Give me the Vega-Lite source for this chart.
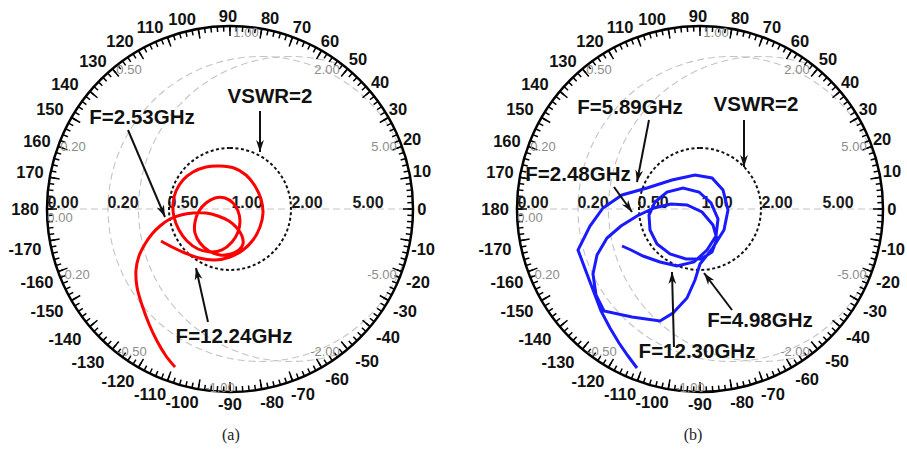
{
"$schema": "https://vega.github.io/schema/vega-lite/v6.json",
"background": "white",
"padding": 0,
"spacing": 0,
"bounds": "flush",
"config": {"view": {"stroke": null}},
"datasets": {
"grid": [{"x":0.16667,"y":0,"r":0.83333},{"x":0.33333,"y":0,"r":0.66667},{"x":0.5,"y":0,"r":0.5},{"x":0.66667,"y":0,"r":0.33333},{"x":0.83333,"y":0,"r":0.16667},{"x":0.90909,"y":0,"r":0.09091},
{"x":1,"y":5,"r":5},{"x":1,"y":-5,"r":5},{"x":1,"y":2,"r":2},{"x":1,"y":-2,"r":2},{"x":1,"y":1,"r":1},{"x":1,"y":-1,"r":1},{"x":1,"y":0.5,"r":0.5},{"x":1,"y":-0.5,"r":0.5},{"x":1,"y":0.2,"r":0.2},{"x":1,"y":-0.2,"r":0.2},{"x":1,"y":0.1,"r":0.1},{"x":1,"y":-0.1,"r":0.1}],
"ticks": [{"x":0,"y":0,"t":0,"m":1},{"x":0,"y":0,"t":2,"m":0},{"x":0,"y":0,"t":4,"m":0},{"x":0,"y":0,"t":6,"m":0},{"x":0,"y":0,"t":8,"m":0},{"x":0,"y":0,"t":10,"m":1},{"x":0,"y":0,"t":12,"m":0},{"x":0,"y":0,"t":14,"m":0},{"x":0,"y":0,"t":16,"m":0},{"x":0,"y":0,"t":18,"m":0},{"x":0,"y":0,"t":20,"m":1},{"x":0,"y":0,"t":22,"m":0},{"x":0,"y":0,"t":24,"m":0},{"x":0,"y":0,"t":26,"m":0},{"x":0,"y":0,"t":28,"m":0},{"x":0,"y":0,"t":30,"m":1},{"x":0,"y":0,"t":32,"m":0},{"x":0,"y":0,"t":34,"m":0},{"x":0,"y":0,"t":36,"m":0},{"x":0,"y":0,"t":38,"m":0},{"x":0,"y":0,"t":40,"m":1},{"x":0,"y":0,"t":42,"m":0},{"x":0,"y":0,"t":44,"m":0},{"x":0,"y":0,"t":46,"m":0},{"x":0,"y":0,"t":48,"m":0},{"x":0,"y":0,"t":50,"m":1},{"x":0,"y":0,"t":52,"m":0},{"x":0,"y":0,"t":54,"m":0},{"x":0,"y":0,"t":56,"m":0},{"x":0,"y":0,"t":58,"m":0},{"x":0,"y":0,"t":60,"m":1},{"x":0,"y":0,"t":62,"m":0},{"x":0,"y":0,"t":64,"m":0},{"x":0,"y":0,"t":66,"m":0},{"x":0,"y":0,"t":68,"m":0},{"x":0,"y":0,"t":70,"m":1},{"x":0,"y":0,"t":72,"m":0},{"x":0,"y":0,"t":74,"m":0},{"x":0,"y":0,"t":76,"m":0},{"x":0,"y":0,"t":78,"m":0},{"x":0,"y":0,"t":80,"m":1},{"x":0,"y":0,"t":82,"m":0},{"x":0,"y":0,"t":84,"m":0},{"x":0,"y":0,"t":86,"m":0},{"x":0,"y":0,"t":88,"m":0},{"x":0,"y":0,"t":90,"m":1},{"x":0,"y":0,"t":92,"m":0},{"x":0,"y":0,"t":94,"m":0},{"x":0,"y":0,"t":96,"m":0},{"x":0,"y":0,"t":98,"m":0},{"x":0,"y":0,"t":100,"m":1},{"x":0,"y":0,"t":102,"m":0},{"x":0,"y":0,"t":104,"m":0},{"x":0,"y":0,"t":106,"m":0},{"x":0,"y":0,"t":108,"m":0},{"x":0,"y":0,"t":110,"m":1},{"x":0,"y":0,"t":112,"m":0},{"x":0,"y":0,"t":114,"m":0},{"x":0,"y":0,"t":116,"m":0},{"x":0,"y":0,"t":118,"m":0},{"x":0,"y":0,"t":120,"m":1},{"x":0,"y":0,"t":122,"m":0},{"x":0,"y":0,"t":124,"m":0},{"x":0,"y":0,"t":126,"m":0},{"x":0,"y":0,"t":128,"m":0},{"x":0,"y":0,"t":130,"m":1},{"x":0,"y":0,"t":132,"m":0},{"x":0,"y":0,"t":134,"m":0},{"x":0,"y":0,"t":136,"m":0},{"x":0,"y":0,"t":138,"m":0},{"x":0,"y":0,"t":140,"m":1},{"x":0,"y":0,"t":142,"m":0},{"x":0,"y":0,"t":144,"m":0},{"x":0,"y":0,"t":146,"m":0},{"x":0,"y":0,"t":148,"m":0},{"x":0,"y":0,"t":150,"m":1},{"x":0,"y":0,"t":152,"m":0},{"x":0,"y":0,"t":154,"m":0},{"x":0,"y":0,"t":156,"m":0},{"x":0,"y":0,"t":158,"m":0},{"x":0,"y":0,"t":160,"m":1},{"x":0,"y":0,"t":162,"m":0},{"x":0,"y":0,"t":164,"m":0},{"x":0,"y":0,"t":166,"m":0},{"x":0,"y":0,"t":168,"m":0},{"x":0,"y":0,"t":170,"m":1},{"x":0,"y":0,"t":172,"m":0},{"x":0,"y":0,"t":174,"m":0},{"x":0,"y":0,"t":176,"m":0},{"x":0,"y":0,"t":178,"m":0},{"x":0,"y":0,"t":180,"m":1},{"x":0,"y":0,"t":182,"m":0},{"x":0,"y":0,"t":184,"m":0},{"x":0,"y":0,"t":186,"m":0},{"x":0,"y":0,"t":188,"m":0},{"x":0,"y":0,"t":190,"m":1},{"x":0,"y":0,"t":192,"m":0},{"x":0,"y":0,"t":194,"m":0},{"x":0,"y":0,"t":196,"m":0},{"x":0,"y":0,"t":198,"m":0},{"x":0,"y":0,"t":200,"m":1},{"x":0,"y":0,"t":202,"m":0},{"x":0,"y":0,"t":204,"m":0},{"x":0,"y":0,"t":206,"m":0},{"x":0,"y":0,"t":208,"m":0},{"x":0,"y":0,"t":210,"m":1},{"x":0,"y":0,"t":212,"m":0},{"x":0,"y":0,"t":214,"m":0},{"x":0,"y":0,"t":216,"m":0},{"x":0,"y":0,"t":218,"m":0},{"x":0,"y":0,"t":220,"m":1},{"x":0,"y":0,"t":222,"m":0},{"x":0,"y":0,"t":224,"m":0},{"x":0,"y":0,"t":226,"m":0},{"x":0,"y":0,"t":228,"m":0},{"x":0,"y":0,"t":230,"m":1},{"x":0,"y":0,"t":232,"m":0},{"x":0,"y":0,"t":234,"m":0},{"x":0,"y":0,"t":236,"m":0},{"x":0,"y":0,"t":238,"m":0},{"x":0,"y":0,"t":240,"m":1},{"x":0,"y":0,"t":242,"m":0},{"x":0,"y":0,"t":244,"m":0},{"x":0,"y":0,"t":246,"m":0},{"x":0,"y":0,"t":248,"m":0},{"x":0,"y":0,"t":250,"m":1},{"x":0,"y":0,"t":252,"m":0},{"x":0,"y":0,"t":254,"m":0},{"x":0,"y":0,"t":256,"m":0},{"x":0,"y":0,"t":258,"m":0},{"x":0,"y":0,"t":260,"m":1},{"x":0,"y":0,"t":262,"m":0},{"x":0,"y":0,"t":264,"m":0},{"x":0,"y":0,"t":266,"m":0},{"x":0,"y":0,"t":268,"m":0},{"x":0,"y":0,"t":270,"m":1},{"x":0,"y":0,"t":272,"m":0},{"x":0,"y":0,"t":274,"m":0},{"x":0,"y":0,"t":276,"m":0},{"x":0,"y":0,"t":278,"m":0},{"x":0,"y":0,"t":280,"m":1},{"x":0,"y":0,"t":282,"m":0},{"x":0,"y":0,"t":284,"m":0},{"x":0,"y":0,"t":286,"m":0},{"x":0,"y":0,"t":288,"m":0},{"x":0,"y":0,"t":290,"m":1},{"x":0,"y":0,"t":292,"m":0},{"x":0,"y":0,"t":294,"m":0},{"x":0,"y":0,"t":296,"m":0},{"x":0,"y":0,"t":298,"m":0},{"x":0,"y":0,"t":300,"m":1},{"x":0,"y":0,"t":302,"m":0},{"x":0,"y":0,"t":304,"m":0},{"x":0,"y":0,"t":306,"m":0},{"x":0,"y":0,"t":308,"m":0},{"x":0,"y":0,"t":310,"m":1},{"x":0,"y":0,"t":312,"m":0},{"x":0,"y":0,"t":314,"m":0},{"x":0,"y":0,"t":316,"m":0},{"x":0,"y":0,"t":318,"m":0},{"x":0,"y":0,"t":320,"m":1},{"x":0,"y":0,"t":322,"m":0},{"x":0,"y":0,"t":324,"m":0},{"x":0,"y":0,"t":326,"m":0},{"x":0,"y":0,"t":328,"m":0},{"x":0,"y":0,"t":330,"m":1},{"x":0,"y":0,"t":332,"m":0},{"x":0,"y":0,"t":334,"m":0},{"x":0,"y":0,"t":336,"m":0},{"x":0,"y":0,"t":338,"m":0},{"x":0,"y":0,"t":340,"m":1},{"x":0,"y":0,"t":342,"m":0},{"x":0,"y":0,"t":344,"m":0},{"x":0,"y":0,"t":346,"m":0},{"x":0,"y":0,"t":348,"m":0},{"x":0,"y":0,"t":350,"m":1},{"x":0,"y":0,"t":352,"m":0},{"x":0,"y":0,"t":354,"m":0},{"x":0,"y":0,"t":356,"m":0},{"x":0,"y":0,"t":358,"m":0}],
"deg": [{"x":-0.011,"y":1.049,"t":"90"},{"x":0.219,"y":1.038,"t":"80"},{"x":0.393,"y":0.989,"t":"70"},{"x":0.546,"y":0.913,"t":"60"},{"x":0.699,"y":0.814,"t":"50"},{"x":0.82,"y":0.689,"t":"40"},{"x":0.918,"y":0.541,"t":"30"},{"x":0.995,"y":0.377,"t":"20"},{"x":1.049,"y":0.202,"t":"10"},{"x":1.049,"y":-0.005,"t":"0"},{"x":1.055,"y":-0.224,"t":"-10"},{"x":1.027,"y":-0.404,"t":"-20"},{"x":0.956,"y":-0.563,"t":"-30"},{"x":0.863,"y":-0.705,"t":"-40"},{"x":0.749,"y":-0.836,"t":"-50"},{"x":0.585,"y":-0.934,"t":"-60"},{"x":0.399,"y":-1.016,"t":"-70"},{"x":0.23,"y":-1.06,"t":"-80"},{"x":0.0,"y":-1.071,"t":"-90"},{"x":-0.262,"y":-1.06,"t":"-100"},{"x":-0.437,"y":-1.016,"t":"-110"},{"x":-0.612,"y":-0.945,"t":"-120"},{"x":-0.776,"y":-0.842,"t":"-130"},{"x":-0.902,"y":-0.716,"t":"-140"},{"x":-1.0,"y":-0.563,"t":"-150"},{"x":-1.055,"y":-0.404,"t":"-160"},{"x":-1.12,"y":-0.224,"t":"-170"},{"x":-1.12,"y":-0.005,"t":"180"},{"x":-1.093,"y":0.197,"t":"170"},{"x":-1.055,"y":0.366,"t":"160"},{"x":-0.984,"y":0.541,"t":"150"},{"x":-0.902,"y":0.678,"t":"140"},{"x":-0.749,"y":0.803,"t":"130"},{"x":-0.601,"y":0.913,"t":"120"},{"x":-0.437,"y":0.989,"t":"110"},{"x":-0.262,"y":1.033,"t":"100"}],
"rlab": [{"x":-0.9126,"y":0.0328,"t":"0.00"},{"x":-0.5847,"y":0.0328,"t":"0.20"},{"x":-0.2568,"y":0.0328,"t":"0.50"},{"x":0.0929,"y":0.0328,"t":"1.00"},{"x":0.4208,"y":0.0328,"t":"2.00"},{"x":0.7541,"y":0.0328,"t":"5.00"}],
"glab": [{"x":0.0874,"y":0.9617,"t":"1.00"},{"x":-0.5519,"y":0.7596,"t":"0.50"},{"x":0.5301,"y":0.7596,"t":"2.00"},{"x":-0.8579,"y":0.3388,"t":"0.20"},{"x":0.8415,"y":0.3388,"t":"5.00"},{"x":-0.929,"y":-0.0492,"t":"0.00"},{"x":-0.847,"y":-0.3607,"t":"-0.20"},{"x":0.8306,"y":-0.3607,"t":"-5.00"},{"x":-0.5355,"y":-0.7814,"t":"-0.50"},{"x":0.5191,"y":-0.7814,"t":"-2.00"},{"x":-0.0546,"y":-0.9781,"t":"-1.00"}],
"red": [{"x":-0.3005,"y":-0.8634},{"x":-0.3497,"y":-0.8033},{"x":-0.3989,"y":-0.7213},{"x":-0.4426,"y":-0.6284},{"x":-0.4809,"y":-0.5246},{"x":-0.5082,"y":-0.4262},{"x":-0.5137,"y":-0.3333},{"x":-0.4973,"y":-0.2568},{"x":-0.4645,"y":-0.1913},{"x":-0.4262,"y":-0.1366},{"x":-0.3825,"y":-0.0929},{"x":-0.3279,"y":-0.0546},{"x":-0.2678,"y":-0.0328},{"x":-0.2022,"y":-0.0219},{"x":-0.1311,"y":-0.0219},{"x":-0.0656,"y":-0.0383},{"x":-0.0055,"y":-0.0656},{"x":0.0383,"y":-0.1038},{"x":0.0656,"y":-0.1475},{"x":0.071,"y":-0.1913},{"x":0.0492,"y":-0.224},{"x":0.0055,"y":-0.2459},{"x":-0.0546,"y":-0.2514},{"x":-0.1148,"y":-0.2295},{"x":-0.1639,"y":-0.1858},{"x":-0.1913,"y":-0.1311},{"x":-0.1913,"y":-0.071},{"x":-0.1694,"y":-0.0109},{"x":-0.1311,"y":0.0328},{"x":-0.082,"y":0.0601},{"x":-0.0273,"y":0.0601},{"x":0.0164,"y":0.0328},{"x":0.0437,"y":-0.0109},{"x":0.0546,"y":-0.0656},{"x":0.0437,"y":-0.1257},{"x":0.0109,"y":-0.1803},{"x":-0.0437,"y":-0.224},{"x":-0.1093,"y":-0.235},{"x":-0.1749,"y":-0.2186},{"x":-0.235,"y":-0.1749},{"x":-0.2787,"y":-0.1148},{"x":-0.306,"y":-0.0437},{"x":-0.3115,"y":0.0273},{"x":-0.2951,"y":0.0984},{"x":-0.2568,"y":0.1585},{"x":-0.2022,"y":0.2022},{"x":-0.1311,"y":0.2295},{"x":-0.0546,"y":0.235},{"x":0.0219,"y":0.224},{"x":0.0874,"y":0.1858},{"x":0.1366,"y":0.1257},{"x":0.1694,"y":0.0546},{"x":0.1803,"y":-0.0219},{"x":0.1639,"y":-0.0984},{"x":0.1257,"y":-0.1694},{"x":0.071,"y":-0.224},{"x":0.0,"y":-0.2623},{"x":-0.082,"y":-0.2787},{"x":-0.1694,"y":-0.2678},{"x":-0.2459,"y":-0.2404},{"x":-0.3169,"y":-0.2077},{"x":-0.377,"y":-0.1749}],
"blue": [{"x":-0.3443,"y":-0.8689},{"x":-0.3934,"y":-0.8033},{"x":-0.4426,"y":-0.7322},{"x":-0.4918,"y":-0.6503},{"x":-0.541,"y":-0.5574},{"x":-0.6011,"y":-0.3989},{"x":-0.6667,"y":-0.224},{"x":-0.6011,"y":-0.0929},{"x":-0.5301,"y":0.0055},{"x":-0.4262,"y":0.0765},{"x":-0.2896,"y":0.1148},{"x":-0.153,"y":0.1585},{"x":-0.0273,"y":0.1858},{"x":0.0656,"y":0.1694},{"x":0.1257,"y":0.1038},{"x":0.153,"y":-0.0055},{"x":0.1311,"y":-0.1148},{"x":0.0656,"y":-0.2186},{"x":0.0,"y":-0.3005},{"x":-0.0273,"y":-0.388},{"x":-0.071,"y":-0.4863},{"x":-0.1475,"y":-0.5683},{"x":-0.2186,"y":-0.612},{"x":-0.3716,"y":-0.5902},{"x":-0.5246,"y":-0.5574},{"x":-0.5683,"y":-0.4699},{"x":-0.5847,"y":-0.3552},{"x":-0.5628,"y":-0.2514},{"x":-0.5082,"y":-0.1585},{"x":-0.4317,"y":-0.0929},{"x":-0.3443,"y":-0.0383},{"x":-0.2514,"y":0.0055},{"x":-0.1585,"y":0.0273},{"x":-0.071,"y":0.0219},{"x":0.0109,"y":-0.0164},{"x":0.071,"y":-0.0874},{"x":0.0929,"y":-0.1639},{"x":0.0656,"y":-0.235},{"x":0.0055,"y":-0.2732},{"x":-0.0765,"y":-0.2732},{"x":-0.1639,"y":-0.2459},{"x":-0.235,"y":-0.1913},{"x":-0.2732,"y":-0.1148},{"x":-0.2787,"y":-0.0328},{"x":-0.2459,"y":0.0383},{"x":-0.1803,"y":0.0929},{"x":-0.0929,"y":0.1148},{"x":-0.0055,"y":0.0929},{"x":0.0601,"y":0.0328},{"x":0.0984,"y":-0.0546},{"x":0.0874,"y":-0.1475},{"x":0.0383,"y":-0.224},{"x":-0.0328,"y":-0.2896},{"x":-0.1257,"y":-0.3115},{"x":-0.2186,"y":-0.2896},{"x":-0.3115,"y":-0.2568},{"x":-0.377,"y":-0.224},{"x":-0.4262,"y":-0.2022}],
"ann_a": [{"x":0.2186,"y":0.612,"t":"VSWR=2"},{"x":-0.4809,"y":0.4973,"t":"F=2.53GHz"},{"x":0.0219,"y":-0.6995,"t":"F=12.24GHz"}],
"ann_b": [{"x":-0.3825,"y":0.5519,"t":"F=5.89GHz"},{"x":0.306,"y":0.5683,"t":"VSWR=2"},{"x":-0.6667,"y":0.1858,"t":"F=2.48GHz"},{"x":0.3279,"y":-0.612,"t":"F=4.98GHz"},{"x":-0.0164,"y":-0.7814,"t":"F=12.30GHz"}],
"arr_a": [{"x":0.1639,"y":0.5355,"x2":0.1639,"y2":0.3115,"ang":180},{"x":-0.5574,"y":0.4317,"x2":-0.3552,"y2":-0.0437,"ang":157},{"x":-0.1202,"y":-0.6175,"x2":-0.1858,"y2":-0.3224,"ang":347.5}],
"arr_b": [{"x":-0.2787,"y":0.4863,"x2":-0.3443,"y2":0.1475,"ang":191},{"x":0.2404,"y":0.4863,"x2":0.2404,"y2":0.2295,"ang":180},{"x":-0.4699,"y":0.1202,"x2":-0.3716,"y2":-0.0164,"ang":144.3},{"x":0.1749,"y":-0.5519,"x2":0.0219,"y2":-0.3497,"ang":322.9},{"x":-0.1421,"y":-0.7541,"x2":-0.153,"y2":-0.3443,"ang":358.5}]
},
"hconcat": [
{
"width": 453, "height": 449,
"encoding": {
"x": {"field":"x","type":"quantitative","scale":{"domain":[-1.25683,1.21858],"nice":false,"zero":false},"axis":null},
"y": {"field":"y","type":"quantitative","scale":{"domain":[-1.31148,1.14208],"nice":false,"zero":false},"axis":null}
},
"layer": [
{"data":{"name":"grid"},"mark":{"type":"arc","filled":false,"stroke":"#c4c4c4","strokeWidth":1.1,"strokeDash":[7,4],"theta":0,"theta2":6.2832,"clip":true},
"encoding":{"radius":{"field":"r","type":"quantitative","scale":{"type":"linear","domain":[0,1],"range":[0,183],"zero":true,"nice":false}}}},
{"data":{"values":[{"x":-1,"x2":1,"y":0}]},"mark":{"type":"rule","stroke":"#c4c4c4","strokeWidth":1.1,"strokeDash":[7,4]},"encoding":{"x2":{"field":"x2"}}},
{"data":{"values":[{"x":0,"y":0,"r":1.005,"r2":2.6}]},"mark":{"type":"arc","fill":"white","theta":0,"theta2":6.2832,"clip":true},
"encoding":{"radius":{"field":"r2","type":"quantitative"},"radius2":{"field":"r"}}},
{"data":{"values":[{"x":0,"y":0,"r":1}]},"mark":{"type":"arc","filled":false,"stroke":"black","strokeWidth":2.5,"theta":0,"theta2":6.2832},
"encoding":{"radius":{"field":"r","type":"quantitative"}}},
{"data":{"name":"ticks"},"mark":{"type":"point","shape":"M0,-183L0,-177.5","filled":false,"stroke":"black","strokeWidth":1.5,"size":4,"opacity":1},
"encoding":{"angle":{"field":"t","type":"quantitative","scale":null}}},
{"data":{"name":"ticks"},"transform":[{"filter":"datum.m == 1"}],"mark":{"type":"point","shape":"M0,-183L0,-173","filled":false,"stroke":"black","strokeWidth":1.5,"size":4,"opacity":1},
"encoding":{"angle":{"field":"t","type":"quantitative","scale":null}}},
{"data":{"name":"glab"},"mark":{"type":"text","font":"Liberation Sans","fontSize":13,"color":"#8c8c8c"},"encoding":{"text":{"field":"t"}}},
{"data":{"name":"rlab"},"mark":{"type":"text","font":"Liberation Sans","fontSize":16,"fontWeight":"bold","color":"#1a1a1a"},"encoding":{"text":{"field":"t"}}},
{"data":{"name":"deg"},"mark":{"type":"text","font":"Liberation Sans","fontSize":16.5,"fontWeight":"bold","color":"#111111"},"encoding":{"text":{"field":"t"}}},
{"data":{"values":[{"x":0,"y":0,"r":0.33333}]},"mark":{"type":"arc","filled":false,"stroke":"#111111","strokeWidth":2,"strokeDash":[3,2.5],"theta":0,"theta2":6.2832},
"encoding":{"radius":{"field":"r","type":"quantitative"}}},
{"data":{"name":"red"},"mark":{"type":"line","color":"#ff0000","strokeWidth":3,"interpolate":"catmull-rom"},"encoding":{"order":{"value":null}}},
{"data":{"name":"arr_a"},"mark":{"type":"rule","color":"#111111","strokeWidth":2},"encoding":{"x2":{"field":"x2"},"y2":{"field":"y2"}}},
{"data":{"name":"arr_a"},"mark":{"type":"point","shape":"M0,0L0.65,2L0,1.4L-0.65,2Z","filled":true,"color":"#111111","size":144,"opacity":1},
"encoding":{"x":{"field":"x2","type":"quantitative","scale":{"domain":[-1.25683,1.21858],"nice":false,"zero":false},"axis":null},"y":{"field":"y2","type":"quantitative","scale":{"domain":[-1.31148,1.14208],"nice":false,"zero":false},"axis":null},"angle":{"field":"ang","type":"quantitative","scale":null}}},
{"data":{"name":"ann_a"},"mark":{"type":"text","font":"Liberation Sans","fontSize":20.5,"fontWeight":"bold","color":"#111111"},"encoding":{"text":{"field":"t"}}},
{"data":{"values":[{"x":0.005,"y":-1.235,"t":"(a)"}]},"mark":{"type":"text","font":"Liberation Serif","fontSize":16,"color":"#222222"},"encoding":{"text":{"field":"t"}}}
]
},
{
"width": 454, "height": 449,
"encoding": {
"x": {"field":"x","type":"quantitative","scale":{"domain":[-1.34973,1.13115],"nice":false,"zero":false},"axis":null},
"y": {"field":"y","type":"quantitative","scale":{"domain":[-1.31148,1.14208],"nice":false,"zero":false},"axis":null}
},
"layer": [
{"data":{"name":"grid"},"mark":{"type":"arc","filled":false,"stroke":"#c4c4c4","strokeWidth":1.1,"strokeDash":[7,4],"theta":0,"theta2":6.2832,"clip":true},
"encoding":{"radius":{"field":"r","type":"quantitative","scale":{"type":"linear","domain":[0,1],"range":[0,183],"zero":true,"nice":false}}}},
{"data":{"values":[{"x":-1,"x2":1,"y":0}]},"mark":{"type":"rule","stroke":"#c4c4c4","strokeWidth":1.1,"strokeDash":[7,4]},"encoding":{"x2":{"field":"x2"}}},
{"data":{"values":[{"x":0,"y":0,"r":1.005,"r2":2.6}]},"mark":{"type":"arc","fill":"white","theta":0,"theta2":6.2832,"clip":true},
"encoding":{"radius":{"field":"r2","type":"quantitative"},"radius2":{"field":"r"}}},
{"data":{"values":[{"x":0,"y":0,"r":1}]},"mark":{"type":"arc","filled":false,"stroke":"black","strokeWidth":2.5,"theta":0,"theta2":6.2832},
"encoding":{"radius":{"field":"r","type":"quantitative"}}},
{"data":{"name":"ticks"},"mark":{"type":"point","shape":"M0,-183L0,-177.5","filled":false,"stroke":"black","strokeWidth":1.5,"size":4,"opacity":1},
"encoding":{"angle":{"field":"t","type":"quantitative","scale":null}}},
{"data":{"name":"ticks"},"transform":[{"filter":"datum.m == 1"}],"mark":{"type":"point","shape":"M0,-183L0,-173","filled":false,"stroke":"black","strokeWidth":1.5,"size":4,"opacity":1},
"encoding":{"angle":{"field":"t","type":"quantitative","scale":null}}},
{"data":{"name":"glab"},"mark":{"type":"text","font":"Liberation Sans","fontSize":13,"color":"#8c8c8c"},"encoding":{"text":{"field":"t"}}},
{"data":{"name":"rlab"},"mark":{"type":"text","font":"Liberation Sans","fontSize":16,"fontWeight":"bold","color":"#1a1a1a"},"encoding":{"text":{"field":"t"}}},
{"data":{"name":"deg"},"mark":{"type":"text","font":"Liberation Sans","fontSize":16.5,"fontWeight":"bold","color":"#111111"},"encoding":{"text":{"field":"t"}}},
{"data":{"values":[{"x":0,"y":0,"r":0.33333}]},"mark":{"type":"arc","filled":false,"stroke":"#111111","strokeWidth":2,"strokeDash":[3,2.5],"theta":0,"theta2":6.2832},
"encoding":{"radius":{"field":"r","type":"quantitative"}}},
{"data":{"name":"blue"},"mark":{"type":"line","color":"#1a1aff","strokeWidth":3},"encoding":{"order":{"value":null}}},
{"data":{"name":"arr_b"},"mark":{"type":"rule","color":"#111111","strokeWidth":2},"encoding":{"x2":{"field":"x2"},"y2":{"field":"y2"}}},
{"data":{"name":"arr_b"},"mark":{"type":"point","shape":"M0,0L0.65,2L0,1.4L-0.65,2Z","filled":true,"color":"#111111","size":144,"opacity":1},
"encoding":{"x":{"field":"x2","type":"quantitative","scale":{"domain":[-1.34973,1.13115],"nice":false,"zero":false},"axis":null},"y":{"field":"y2","type":"quantitative","scale":{"domain":[-1.31148,1.14208],"nice":false,"zero":false},"axis":null},"angle":{"field":"ang","type":"quantitative","scale":null}}},
{"data":{"name":"ann_b"},"mark":{"type":"text","font":"Liberation Sans","fontSize":20.5,"fontWeight":"bold","color":"#111111"},"encoding":{"text":{"field":"t"}}},
{"data":{"values":[{"x":-0.038,"y":-1.235,"t":"(b)"}]},"mark":{"type":"text","font":"Liberation Serif","fontSize":16,"color":"#222222"},"encoding":{"text":{"field":"t"}}}
]
}
]
}
